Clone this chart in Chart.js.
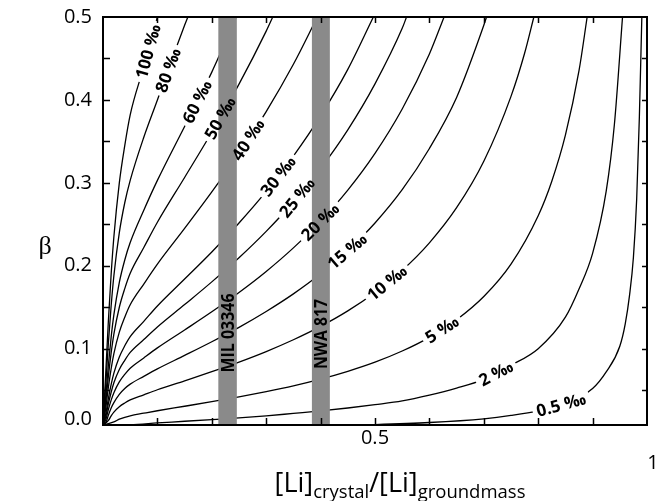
<!DOCTYPE html>
<html>
<head>
<meta charset="utf-8">
<script src="https://cdn.jsdelivr.net/npm/chart.js@4.4.0/dist/chart.umd.min.js"></script>
<style>
html,body{margin:0;padding:0;background:#fff;}
#wrap{width:659px;height:501px;position:relative;}
</style>
</head>
<body>
<div id="wrap"><canvas id="c"></canvas></div>
<script>
// ---------- data ----------
const xTickValues = [0,0.1,0.2,0.3,0.4,0.5,0.6,0.7,0.8,0.9,1.0];
const xTickLabels = {'0.5':'0.5','1':'1'};
const yTickValues = [0,0.05,0.1,0.15,0.2,0.25,0.3,0.35,0.4,0.45,0.5];
const yMin = 0.008, yMax = 0.5;

const curveNames = ['100 ‰','80 ‰','60 ‰','50 ‰','40 ‰','30 ‰','25 ‰','20 ‰','15 ‰','10 ‰','5 ‰','2 ‰','0.5 ‰'];

const curve100 = [[0,0.008],[0.005,0.07],[0.01,0.135],[0.015,0.19],[0.02,0.235],[0.03,0.30],[0.04,0.345],[0.05,0.382],[0.075,0.44],[0.1,0.5]];
const curve80 = [[0,0.008],[0.005,0.056],[0.01,0.108],[0.015,0.152],[0.02,0.188],[0.03,0.24],[0.04,0.276],[0.05,0.303],[0.075,0.355],[0.1,0.4],[0.125,0.446],[0.15,0.49],[0.156,0.5]];
const curve60 = [[0,0.008],[0.005,0.042],[0.01,0.081],[0.015,0.114],[0.02,0.141],[0.03,0.18],[0.04,0.207],[0.05,0.228],[0.075,0.267],[0.1,0.303],[0.15,0.368],[0.2,0.4335],[0.245,0.5]];
const curve50 = [[0,0.008],[0.005,0.035],[0.01,0.0675],[0.015,0.095],[0.02,0.1175],[0.03,0.15],[0.04,0.1725],[0.05,0.191],[0.075,0.222],[0.1,0.2525],[0.15,0.3065],[0.2,0.361],[0.25,0.419],[0.3,0.483],[0.312,0.5]];
const curve40 = [[0,0.008],[0.005,0.028],[0.01,0.054],[0.015,0.076],[0.02,0.094],[0.03,0.12],[0.04,0.138],[0.05,0.153],[0.075,0.178],[0.1,0.202],[0.15,0.245],[0.2,0.289],[0.25,0.3355],[0.3,0.386],[0.35,0.443],[0.394,0.5]];
const curve30 = [[0,0.008],[0.005,0.021],[0.01,0.0405],[0.015,0.057],[0.02,0.0705],[0.03,0.09],[0.04,0.1035],[0.05,0.1146],[0.075,0.133],[0.1,0.1515],[0.15,0.184],[0.2,0.2167],[0.25,0.2516],[0.3,0.2897],[0.35,0.3323],[0.4,0.3807],[0.45,0.4368],[0.497,0.5]];
const curve25 = [[0,0.008],[0.005,0.0175],[0.01,0.034],[0.015,0.0475],[0.02,0.059],[0.03,0.075],[0.04,0.086],[0.05,0.0955],[0.075,0.111],[0.1,0.1262],[0.15,0.1532],[0.2,0.1806],[0.25,0.2097],[0.3,0.2415],[0.35,0.2769],[0.4,0.3173],[0.45,0.364],[0.5,0.4194],[0.55,0.4863],[0.558,0.5]];
const curve20 = [[0,0.008],[0.005,0.014],[0.01,0.027],[0.015,0.038],[0.02,0.047],[0.03,0.06],[0.04,0.069],[0.05,0.0764],[0.075,0.0889],[0.1,0.101],[0.15,0.1226],[0.2,0.1445],[0.25,0.1678],[0.3,0.1932],[0.35,0.2216],[0.4,0.2539],[0.45,0.2913],[0.5,0.3356],[0.55,0.3891],[0.6,0.4554],[0.627,0.5]];
const curve15 = [[0,0.008],[0.005,0.0105],[0.01,0.02],[0.015,0.0285],[0.02,0.035],[0.03,0.045],[0.04,0.052],[0.05,0.0573],[0.075,0.0667],[0.1,0.0757],[0.15,0.0919],[0.2,0.1084],[0.25,0.1258],[0.3,0.1449],[0.35,0.1661],[0.4,0.1903],[0.45,0.2184],[0.5,0.2516],[0.55,0.2917],[0.6,0.3414],[0.65,0.403],[0.7,0.49],[0.705,0.5]];
const curve10 = [[0,0.008],[0.01,0.0135],[0.015,0.019],[0.02,0.0235],[0.03,0.03],[0.04,0.0345],[0.05,0.0382],[0.075,0.0444],[0.1,0.0505],[0.15,0.0613],[0.2,0.0723],[0.25,0.0839],[0.3,0.0966],[0.35,0.1108],[0.4,0.1269],[0.45,0.1456],[0.5,0.1678],[0.55,0.1945],[0.6,0.2277],[0.65,0.27],[0.7,0.326],[0.75,0.4043],[0.775,0.4563],[0.792,0.5]];
const curve5 = [[0,0.008],[0.02,0.0118],[0.03,0.015],[0.04,0.0173],[0.05,0.0191],[0.075,0.0222],[0.1,0.0252],[0.15,0.0306],[0.2,0.0361],[0.25,0.0419],[0.3,0.0483],[0.35,0.0553],[0.4,0.0634],[0.45,0.0728],[0.5,0.0838],[0.55,0.0972],[0.6,0.1137],[0.65,0.1349],[0.7,0.1629],[0.75,0.202],[0.8,0.2604],[0.825,0.302],[0.85,0.3575],[0.875,0.4352],[0.89,0.5]];
const curve2 = [[0,0.008],[0.05,0.0085],[0.1,0.0105],[0.15,0.0125],[0.2,0.0145],[0.25,0.0165],[0.3,0.019],[0.35,0.022],[0.4,0.025],[0.45,0.0285],[0.5,0.0325],[0.55,0.037],[0.6,0.044],[0.65,0.0525],[0.7,0.063],[0.75,0.08],[0.8,0.1],[0.85,0.138],[0.875,0.172],[0.9,0.215],[0.925,0.29],[0.94,0.37],[0.955,0.5]];
const curve05 = [[0.3,0.006],[0.4,0.007],[0.5,0.0085],[0.6,0.011],[0.7,0.0155],[0.75,0.0195],[0.8,0.025],[0.85,0.034],[0.9,0.052],[0.925,0.072],[0.95,0.103],[0.96,0.13],[0.968,0.165],[0.975,0.21],[0.981,0.28],[0.986,0.38],[0.9905,0.5]];

const curves = [curve100,curve80,curve60,curve50,curve40,curve30,curve25,curve20,curve15,curve10,curve5,curve2,curve05];
// x value (along each curve) where its label sits
const labelX = [0.0827,0.1195,0.1728,0.215,0.2665,0.3217,0.3566,0.3989,0.4485,0.522,0.623,0.7224,0.842];

const bandNames = ['MIL 03346','NWA 817'];
const bandRanges = [[0.212,0.246],[0.384,0.417]];

// ---------- styles ----------
const TICK_FONT = {family:'"Open Sans", "Noto Sans", sans-serif', size:20};
const TICK_FONT_CSS = '20px "Open Sans", "Noto Sans", sans-serif';
const LABEL_FONT = 'bold 17px "Open Sans", "Noto Sans", sans-serif';
const BAND_FONT = 'bold 18px "Open Sans", "Noto Sans", sans-serif';
const BAND_TEXT = [{cy:333, len:79},{cy:334, len:70}];
const BAND_COLOR = '#8a8a8a';
const Y_ZERO_POS = 0.0145;

function near(a,b){return Math.abs(a-b)<1e-6;}

const contourPlugin = {
  id:'contour',
  afterDatasetsDraw(chart){
    const {ctx, chartArea, scales} = chart;
    const xs = scales.x, ys = scales.y;
    const placed = curves.map((pts,i)=>{
      const lx = labelX[i];
      let k = pts.findIndex(p=>p[0]>=lx); if(k<1) k=1;
      const p0 = pts[k-1], p1 = pts[k];
      const t = (lx-p0[0])/(p1[0]-p0[0]);
      const ly = p0[1]+t*(p1[1]-p0[1]);
      const ang = Math.atan2(ys.getPixelForValue(p1[1])-ys.getPixelForValue(p0[1]),
                             xs.getPixelForValue(p1[0])-xs.getPixelForValue(p0[0]));
      return {px:xs.getPixelForValue(lx), py:ys.getPixelForValue(ly), ang, text:curveNames[i]};
    });
    ctx.save();
    ctx.font = LABEL_FONT;
    placed.forEach(l=>{
      const w = ctx.measureText(l.text).width;
      ctx.save();
      ctx.translate(l.px,l.py); ctx.rotate(l.ang);
      ctx.fillStyle='#fff';
      ctx.fillRect(-w/2-4,-7.5,w+8,15);
      ctx.restore();
    });
    ctx.fillStyle = BAND_COLOR;
    bandRanges.forEach(r=>{
      const a = xs.getPixelForValue(r[0]), b = xs.getPixelForValue(r[1]);
      ctx.fillRect(a, chartArea.top, b-a, chartArea.bottom-chartArea.top);
    });
    ctx.fillStyle='#000';
    ctx.textAlign='center'; ctx.textBaseline='alphabetic';
    ctx.font = LABEL_FONT;
    placed.forEach(l=>{
      ctx.save();
      ctx.translate(l.px,l.py); ctx.rotate(l.ang);
      ctx.fillText(l.text,0,6);
      ctx.restore();
    });
    ctx.font = BAND_FONT;
    bandRanges.forEach((r,i)=>{
      const cx = (xs.getPixelForValue(r[0])+xs.getPixelForValue(r[1]))/2;
      const w = ctx.measureText(bandNames[i]).width;
      ctx.save();
      ctx.translate(cx, BAND_TEXT[i].cy);
      ctx.rotate(-Math.PI/2);
      ctx.scale(BAND_TEXT[i].len/w,1);
      ctx.fillText(bandNames[i],0,6.3);
      ctx.restore();
    });
    ctx.font = '26px "Liberation Serif", "DejaVu Serif", serif';
    ctx.textAlign='center';
    ctx.fillText('β',45,254);
    const parts = [['[Li]',0],['crystal',1],['/[Li]',0],['groundmass',1]];
    const mainF = '27px "Open Sans", "Noto Sans", sans-serif';
    const subF = '18.5px "Open Sans", "Noto Sans", sans-serif';
    let total = 0;
    const widths = parts.map(p=>{ctx.font = p[1]?subF:mainF; const w=ctx.measureText(p[0]).width; total+=w; return w;});
    let cx = 400 - total/2;
    ctx.textAlign='left';
    parts.forEach((p,i)=>{
      ctx.font = p[1]?subF:mainF;
      ctx.fillText(p[0],cx,p[1]?498:492);
      cx += widths[i];
    });
    ctx.restore();
  },
  afterDraw(chart){
    const {ctx, chartArea:a, scales} = chart;
    const xs = scales.x, ys = scales.y;
    ctx.save();
    ctx.strokeStyle='#000'; ctx.lineWidth=1.5;
    ctx.beginPath();
    xTickValues.forEach(v=>{
      if(near(v,0)||near(v,1)) return;
      const p = Math.round(xs.getPixelForValue(v))+0.5;
      ctx.moveTo(p,a.bottom); ctx.lineTo(p,a.bottom-7);
      ctx.moveTo(p,a.top); ctx.lineTo(p,a.top+6);
    });
    yTickValues.forEach(v=>{
      if(v===0||near(v,0.5)) return;
      const p = Math.round(ys.getPixelForValue(v))+0.5;
      ctx.moveTo(a.left,p); ctx.lineTo(a.left+7,p);
      ctx.moveTo(a.right,p); ctx.lineTo(a.right-5,p);
    });
    ctx.stroke();
    ctx.fillStyle='#000';
    ctx.font = TICK_FONT_CSS;
    ctx.textAlign='center'; ctx.textBaseline='middle';
    ctx.fillText(xTickLabels['1'], xs.getPixelForValue(1)+6, 463);
    ctx.restore();
  }
};

const datasets = curves.map(pts=>({
  data: pts.map(p=>({x:p[0],y:p[1]})),
  showLine:true, borderColor:'#000', borderWidth:1.3, pointRadius:0,
  cubicInterpolationMode:'monotone', fill:false
}));

const gridOpts = {drawOnChartArea:false, drawTicks:false, z:1};
const borderOpts = {display:true, color:'#000', width:2, z:1};
const setX = s=>{s.ticks = xTickValues.map(v=>({value:v}));};
const setY = s=>{s.ticks = yTickValues.map(v=>({value: v===0 ? Y_ZERO_POS : v}));};
const fitX = (h)=> s=>{s.height=h; s.paddingLeft=0; s.paddingRight=0;};
const fitY = (w)=> s=>{s.width=w; s.paddingTop=0; s.paddingBottom=0;};

new Chart(document.getElementById('c'),{
  type:'scatter',
  data:{datasets},
  options:{
    responsive:true, maintainAspectRatio:false, animation:false, events:[],
    layout:{padding:0},
    plugins:{legend:{display:false}, tooltip:{enabled:false}},
    scales:{
      x:{type:'linear', position:'bottom', min:0, max:1,
        afterBuildTicks:setX, afterFit:fitX(76),
        ticks:{autoSkip:false, maxRotation:0, minRotation:0, padding:1, color:'#000', font:TICK_FONT,
          callback:(v)=> near(v,0.5) ? xTickLabels['0.5'] : ''},
        grid:gridOpts, border:borderOpts},
      x2:{type:'linear', position:'top', min:0, max:1,
        afterBuildTicks:setX, afterFit:fitX(17),
        ticks:{display:false}, grid:gridOpts, border:borderOpts},
      y:{type:'linear', position:'left', min:yMin, max:yMax,
        afterBuildTicks:setY, afterFit:fitY(103),
        ticks:{autoSkip:false, padding:11, color:'#000', font:TICK_FONT,
          callback:(v)=>{ if(v<0.03) return '0.0'; return near(v*10,Math.round(v*10)) ? v.toFixed(1) : ''; }},
        grid:gridOpts, border:borderOpts},
      y2:{type:'linear', position:'right', min:yMin, max:yMax,
        afterBuildTicks:setY, afterFit:fitY(12),
        ticks:{display:false}, grid:gridOpts, border:borderOpts}
    }
  },
  plugins:[contourPlugin]
});
</script>
</body>
</html>
